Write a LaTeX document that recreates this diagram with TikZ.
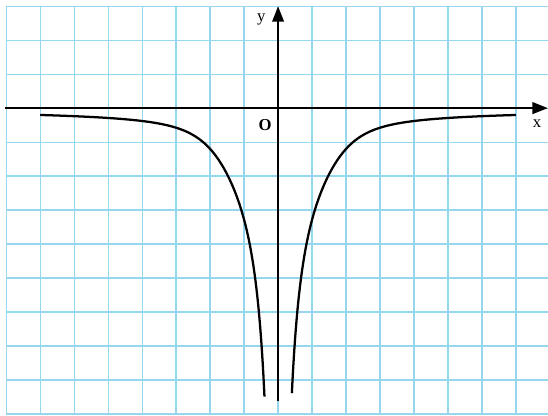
\documentclass[tikz,border=0pt]{standalone}
\usepackage{fontspec}
\setmainfont{Liberation Serif}
\usetikzlibrary{arrows.meta}

\begin{document}
\begin{tikzpicture}[>={Triangle[length=13pt,width=9.5pt]}, font=\fontsize{14}{16}\selectfont]
		\tikzset{gridline/.style={draw={rgb,255:red,150;green,215;blue,240}, line width=1pt},
			axis/.style={->, line width=2.2pt},
			branch/.style={line width=1.9pt, smooth, samples=220}}
		\useasboundingbox (-8.18,-9.03) rectangle (7.94,3.18);
		\draw[gridline] (-8,-9) grid (7.94,3);
		% axes
		\coordinate (xstart) at (-8.03,0);
		\coordinate (xend) at (7.94,0);
		\coordinate (ystart) at (0,-8.62);
		\coordinate (yend) at (0,3.0);
		\draw[axis] (xstart) -- (xend);
		\draw[axis] (ystart) -- (yend);
		\node[anchor=base] (xlabel) at (7.62,-0.58) {x};
		\node[anchor=base] (ylabel) at (-0.49,2.56) {y};
		\node[anchor=base, font=\fontsize{14}{16}\selectfont\bfseries] (origin) at (-0.38,-0.65) {O};
		% the two branches
		\draw[branch, domain=-7:-0.4] plot (\x, {-(1.4+2/(1+(\x/2)^4))/abs(\x)});
		\draw[branch, domain=0.405:7] plot (\x, {-(1.4+2/(1+(\x/2)^4))/abs(\x)});
	\end{tikzpicture}
\end{document}
